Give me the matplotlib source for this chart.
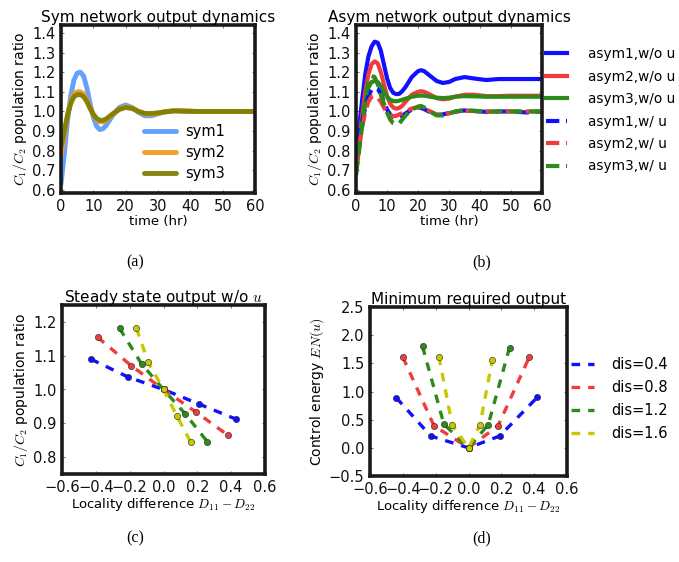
import matplotlib
matplotlib.use("Agg")
import matplotlib.pyplot as plt
import matplotlib.lines as mlines

plt.rcParams['font.family'] = ['DejaVu Sans']
plt.rcParams['mathtext.fontset'] = 'cm'

# ---------------- data ----------------
# (a) symmetric network
t_a = [0, 1, 2, 3, 4, 5, 6, 7, 8, 9, 10, 11, 12, 13, 14, 16, 18, 20, 22, 24, 26, 28, 30, 32, 35, 38, 42, 50, 60]
sym1 = [0.63, 0.78, 0.95, 1.08, 1.16, 1.195, 1.2, 1.18, 1.12, 1.04, 0.97, 0.925, 0.908, 0.912, 0.93, 0.98, 1.02,
        1.033, 1.02, 0.995, 0.978, 0.978, 0.988, 0.997, 1.005, 1.003, 1.0, 1.0, 1.0]
sym2 = [0.77, 0.88, 0.98, 1.05, 1.09, 1.10, 1.10, 1.09, 1.06, 1.02, 0.985, 0.96, 0.947, 0.947, 0.955, 0.985, 1.012,
        1.025, 1.018, 1.0, 0.988, 0.985, 0.99, 0.997, 1.005, 1.003, 1.0, 1.0, 1.0]
sym3 = [0.82, 0.9, 0.98, 1.04, 1.075, 1.085, 1.085, 1.075, 1.05, 1.015, 0.985, 0.965, 0.955, 0.955, 0.962, 0.988,
        1.01, 1.02, 1.015, 1.0, 0.99, 0.99, 0.993, 0.998, 1.002, 1.001, 1.0, 1.0, 1.0]
sym_labels = ['sym1', 'sym2', 'sym3']

# (b) asymmetric network
t_b = [0, 1, 2, 3, 4, 5, 6, 7, 8, 9, 10, 11, 12, 13, 14, 15, 16, 18, 20, 21, 22, 24, 26, 28, 30, 32, 35, 38, 42,
       46, 50, 55, 60]
asym1_wo = [0.78, 0.92, 1.06, 1.19, 1.28, 1.33, 1.355, 1.35, 1.31, 1.24, 1.17, 1.12, 1.095, 1.088, 1.09, 1.105,
            1.125, 1.175, 1.205, 1.21, 1.205, 1.18, 1.155, 1.145, 1.15, 1.165, 1.175, 1.168, 1.16, 1.165, 1.165,
            1.165, 1.165]
asym2_wo = [0.72, 0.85, 0.98, 1.1, 1.19, 1.24, 1.255, 1.245, 1.2, 1.14, 1.08, 1.04, 1.02, 1.014, 1.018, 1.03,
            1.05, 1.085, 1.1, 1.103, 1.1, 1.085, 1.068, 1.062, 1.065, 1.075, 1.085, 1.085, 1.078, 1.078, 1.08,
            1.08, 1.08]
asym3_wo = [0.68, 0.82, 0.95, 1.05, 1.12, 1.15, 1.155, 1.15, 1.13, 1.1, 1.075, 1.06, 1.053, 1.052, 1.055, 1.06,
            1.065, 1.075, 1.08, 1.081, 1.08, 1.075, 1.07, 1.068, 1.07, 1.075, 1.078, 1.077, 1.075, 1.075, 1.075,
            1.075, 1.075]
asym1_w = [0.85, 0.9, 0.95, 1.02, 1.08, 1.11, 1.12, 1.115, 1.09, 1.05, 1.01, 0.985, 0.972, 0.968, 0.972, 0.98,
           0.99, 1.01, 1.02, 1.018, 1.012, 0.995, 0.982, 0.985, 0.992, 1.0, 1.005, 1.002, 0.998, 1.0, 1.0, 0.995,
           1.0]
asym2_w = [0.72, 0.82, 0.92, 1.0, 1.05, 1.075, 1.08, 1.07, 1.05, 1.02, 0.995, 0.98, 0.976, 0.978, 0.985, 0.993,
           1.0, 1.015, 1.021, 1.02, 1.015, 1.0, 0.985, 0.982, 0.99, 0.998, 1.003, 1.002, 1.0, 1.0, 1.0, 1.0, 1.0]
asym3_w = [0.68, 0.8, 0.93, 1.06, 1.15, 1.18, 1.175, 1.14, 1.09, 1.04, 0.995, 0.96, 0.94, 0.934, 0.94, 0.96,
           0.98, 1.01, 1.025, 1.028, 1.02, 0.998, 0.98, 0.98, 0.99, 1.0, 1.007, 1.004, 0.998, 1.0, 1.0, 1.0, 1.0]
asym_labels = ['asym1,w/o u', 'asym2,w/o u', 'asym3,w/o u', 'asym1,w/ u', 'asym2,w/ u', 'asym3,w/ u']

# (c) steady state output w/o u
dis_labels = ['dis=0.4', 'dis=0.8', 'dis=1.2', 'dis=1.6']
c_x = [[-0.43, -0.21, 0.0, 0.21, 0.43],
       [-0.39, -0.19, 0.0, 0.19, 0.38],
       [-0.26, -0.13, 0.0, 0.13, 0.26],
       [-0.16, -0.09, 0.0, 0.08, 0.16]]
c_y = [[1.09, 1.037, 1.0, 0.957, 0.912],
       [1.155, 1.07, 1.0, 0.934, 0.865],
       [1.181, 1.076, 1.0, 0.927, 0.845],
       [1.181, 1.08, 1.0, 0.921, 0.845]]

# (d) minimum required control energy
d_x = [[-0.44, -0.23, 0.0, 0.19, 0.42],
       [-0.40, -0.21, 0.0, 0.18, 0.37],
       [-0.28, -0.15, 0.0, 0.12, 0.25],
       [-0.18, -0.10, 0.0, 0.07, 0.145]]
d_y = [[0.89, 0.21, 0.0, 0.21, 0.9],
       [1.61, 0.39, 0.0, 0.39, 1.61],
       [1.80, 0.42, 0.0, 0.41, 1.78],
       [1.62, 0.41, 0.0, 0.41, 1.56]]

# ---------------- styling ----------------
sym_colors = ['#5b9bff', '#f59a23', '#7f8000']
asym_colors = ['#1010ff', '#f03c3c', '#2e8b1a']
dis_colors = ['#1010ff', '#f03c3c', '#2e8b1a', '#c8c800']

W, H = 679, 562
fig = plt.figure(figsize=(W / 100, H / 100), dpi=100)


def ax_px(l, t, r, b):
    return fig.add_axes([l / W, 1 - b / H, (r - l) / W, (b - t) / H])


def style(ax):
    for s in ax.spines.values():
        s.set_linewidth(2.6)
        s.set_color('#1a1a1a')
    ax.tick_params(direction='in', length=2.5, width=0.8, color='#777777',
                   top=True, right=True, labelsize=10.5, pad=4, labelcolor='#111111')


TFS = 11
LFS = 9.5
YFS = 10
LEGFS = 10.5

# (a)
axa = ax_px(61, 25, 255, 193)
for y, c, lab in zip([sym1, sym2, sym3], sym_colors, sym_labels):
    axa.plot(t_a, y, color=c, lw=3.5, label=lab, solid_capstyle='round', alpha=0.95)
axa.set_xlim(0, 60)
axa.set_ylim(0.585, 1.44)
axa.set_xticks([0, 10, 20, 30, 40, 50, 60])
axa.set_yticks([0.6, 0.7, 0.8, 0.9, 1.0, 1.1, 1.2, 1.3, 1.4])
axa.set_title('Sym network output dynamics', fontsize=TFS, pad=2)
axa.set_xlabel('time (hr)', fontsize=LFS, labelpad=1)
axa.set_ylabel('$C_1/C_2$ population ratio', fontsize=YFS, labelpad=2)
axa.legend(loc='lower right', frameon=False, fontsize=LEGFS, handlelength=2.2, handletextpad=0.6,
           labelspacing=0.4, borderaxespad=0.2, bbox_to_anchor=(0.89, 0.02))
style(axa)

# (b)
axb = ax_px(356, 25, 542, 193)
for y, c, lab in zip([asym1_wo, asym2_wo, asym3_wo], asym_colors, asym_labels[:3]):
    axb.plot(t_b, y, color=c, lw=3.0, label=lab)
for y, c, lab in zip([asym1_w, asym2_w, asym3_w], asym_colors, asym_labels[3:]):
    axb.plot(t_b, y, color=c, lw=3.0, ls=(0, (3.2, 1.6)), label=lab)
axb.set_xlim(0, 60)
axb.set_ylim(0.585, 1.44)
axb.set_xticks([0, 10, 20, 30, 40, 50, 60])
axb.set_yticks([0.6, 0.7, 0.8, 0.9, 1.0, 1.1, 1.2, 1.3, 1.4])
axb.set_title('Asym network output dynamics', fontsize=TFS, pad=2)
axb.set_xlabel('time (hr)', fontsize=LFS, labelpad=1)
axb.set_ylabel('$C_1/C_2$ population ratio', fontsize=YFS, labelpad=2)
axb.legend(loc='upper left', bbox_to_anchor=(0.99, 0.90), frameon=False, fontsize=9.8, handlelength=1.6,
           handletextpad=1.5, labelspacing=0.62, borderaxespad=0.0)
style(axb)

# (c)
axc = ax_px(62, 305, 265, 474)
for xs, ys, c, lab in zip(c_x, c_y, dis_colors, dis_labels):
    axc.plot(xs, ys, color=c, lw=2.4, ls=(0, (2.6, 2.4)), marker='o', ms=4.5, mec='#222222', mew=0.4,
             label=lab)
axc.set_xlim(-0.6, 0.6)
axc.set_ylim(0.75, 1.25)
axc.set_xticks([-0.6, -0.4, -0.2, 0.0, 0.2, 0.4, 0.6])
axc.set_xticklabels(['\u22120.6', '\u22120.4', '\u22120.2', '0.0', '0.2', '0.4', '0.6'])
axc.set_yticks([0.8, 0.9, 1.0, 1.1, 1.2])
axc.set_title('Steady state output w/o $u$', fontsize=TFS, pad=2)
axc.set_xlabel('Locality difference $D_{11}-D_{22}$', fontsize=LFS, labelpad=1)
axc.set_ylabel('$C_1/C_2$ population ratio', fontsize=YFS, labelpad=2)
style(axc)

# (d)
axd = ax_px(370, 307, 567, 476)
for xs, ys, c, lab in zip(d_x, d_y, dis_colors, dis_labels):
    axd.plot(xs, ys, color=c, lw=2.4, ls=(0, (2.6, 2.4)), marker='o', ms=4.5, mec='#222222', mew=0.4,
             label=lab)
axd.set_xlim(-0.6, 0.6)
axd.set_ylim(-0.5, 2.5)
axd.set_xticks([-0.6, -0.4, -0.2, 0.0, 0.2, 0.4, 0.6])
axd.set_xticklabels(['\u22120.6', '\u22120.4', '\u22120.2', '0.0', '0.2', '0.4', '0.6'])
axd.set_yticks([-0.5, 0.0, 0.5, 1.0, 1.5, 2.0, 2.5])
axd.set_yticklabels(['\u22120.5', '0.0', '0.5', '1.0', '1.5', '2.0', '2.5'])
axd.set_title('Minimum required output', fontsize=TFS, pad=2)
axd.set_xlabel('Locality difference $D_{11}-D_{22}$', fontsize=LFS, labelpad=1)
axd.set_ylabel('Control energy $EN(u)$', fontsize=YFS, labelpad=2)
h, l = axd.get_legend_handles_labels()
hh = [mlines.Line2D([], [], color=c, lw=2.4, ls=(0, (2.6, 2.4))) for c in dis_colors]
axd.legend(hh, l, loc='upper left', bbox_to_anchor=(0.99, 0.74), frameon=False, fontsize=LEGFS,
           handlelength=1.6, handletextpad=1.2, labelspacing=0.55, borderaxespad=0.0)
style(axd)

# captions
for x, y, s in [(135, 262, '(a)'), (482, 262, '(b)'), (135, 538, '(c)'), (482, 538, '(d)')]:
    fig.text(x / W, 1 - y / H, s, ha='center', va='center', fontsize=11.5, family='Liberation Serif')

fig.savefig('out.png', dpi=100)
